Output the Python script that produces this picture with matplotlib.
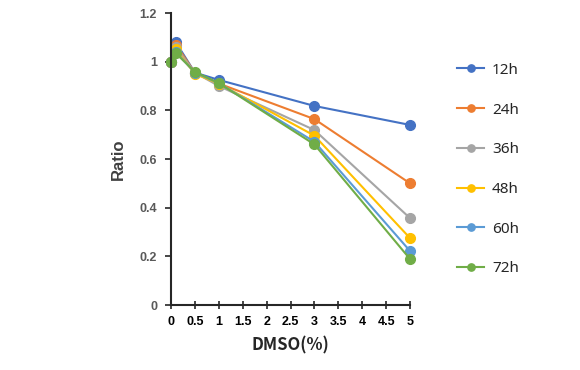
import matplotlib.pyplot as plt

dmso = [0, 0.1, 0.5, 1, 3, 5]
labels = ['12h', '24h', '36h', '48h', '60h', '72h']
r12 = [1.0, 1.08, 0.955, 0.925, 0.818, 0.74]
r24 = [1.0, 1.07, 0.955, 0.91, 0.764, 0.50]
r36 = [1.0, 1.06, 0.955, 0.90, 0.719, 0.357]
r48 = [1.0, 1.05, 0.95, 0.91, 0.696, 0.275]
r60 = [1.0, 1.04, 0.955, 0.912, 0.671, 0.222]
r72 = [1.0, 1.035, 0.958, 0.912, 0.66, 0.189]
series = [r12, r24, r36, r48, r60, r72]
colors = ['#4472C4', '#ED7D31', '#A5A5A5', '#FFC000', '#5B9BD5', '#70AD47']

fig = plt.figure(figsize=(5.8, 3.7), dpi=100)
ax = fig.add_axes([171 / 580, 1 - 305 / 370, 239 / 580, 292 / 370])

for ys, c, lab in zip(series, colors, labels):
    ax.plot(dmso, ys, color=c, marker='o', markersize=7, linewidth=1.5, label=lab, clip_on=False)

ax.set_xlim(0, 5)
ax.set_ylim(0, 1.2)
ax.set_xticks([0, 0.5, 1, 1.5, 2, 2.5, 3, 3.5, 4, 4.5, 5])
ax.set_xticklabels(['0', '0.5', '1', '1.5', '2', '2.5', '3', '3.5', '4', '4.5', '5'],
                   fontfamily='Liberation Sans', fontweight='bold', fontsize=9, color='black')
ax.set_yticks([0, 0.2, 0.4, 0.6, 0.8, 1, 1.2])
ax.set_yticklabels(['0', '0.2', '0.4', '0.6', '0.8', '1', '1.2'],
                   fontfamily='Liberation Sans', fontweight='bold', fontsize=9, color='#595959')

for s in ['top', 'right']:
    ax.spines[s].set_visible(False)
for s in ['left', 'bottom']:
    ax.spines[s].set_linewidth(1.5)
    ax.spines[s].set_color('#262626')
ax.tick_params(axis='x', direction='inout', length=6, width=1.2, color='#262626', pad=5)
ax.tick_params(axis='y', direction='out', length=4, width=1.2, color='#262626', pad=6)

ax.set_ylabel('Ratio', fontfamily='Liberation Sans', fontweight='bold', fontsize=12,
              color='#404040', labelpad=10)
ax.set_xlabel('DMSO(%)', fontfamily=['Noto Sans CJK SC', 'DejaVu Sans'], fontweight='bold',
              fontsize=12, color='#262626', labelpad=6)

leg = fig.legend(loc='upper left', bbox_to_anchor=(443 / 580, 1 - 49 / 370), frameon=False,
                 prop={'family': 'Noto Sans', 'weight': 'medium', 'size': 11},
                 labelspacing=1.62, handlelength=1.8, markerscale=0.75, handletextpad=0.5)
for t in leg.get_texts():
    t.set_color('#262626')

fig.savefig('out.png', dpi=100)
